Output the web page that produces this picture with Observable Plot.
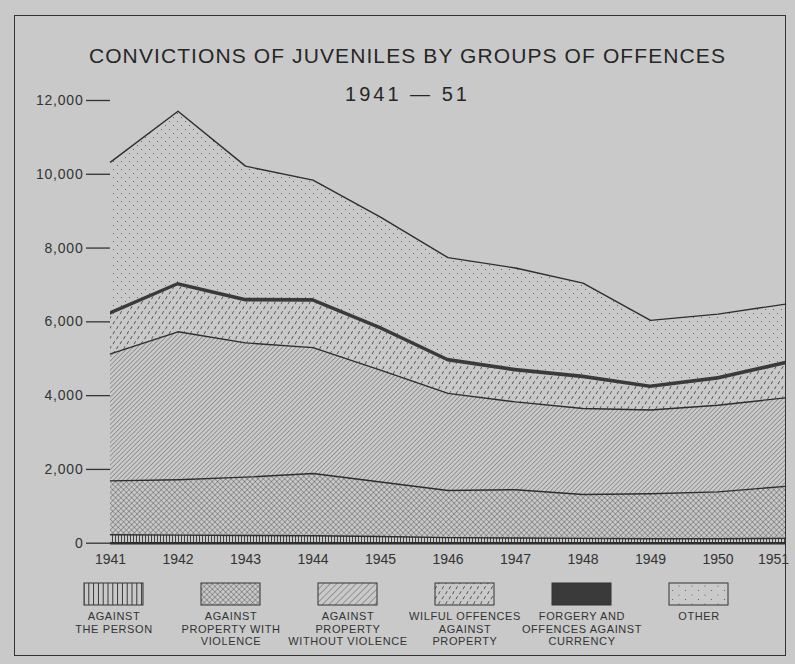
<!DOCTYPE html>
<html><head><meta charset="utf-8">
<script src="https://cdn.jsdelivr.net/npm/d3@7"></script>
<script src="https://cdn.jsdelivr.net/npm/@observablehq/plot@0.6"></script>
<style>
html,body{margin:0;padding:0;background:#c9c9c9;}
#page{position:relative;width:795px;height:664px;overflow:hidden;font-family:"Liberation Sans",Arial,sans-serif;color:#333;}
#frame{position:absolute;left:14px;top:15px;width:772px;height:641px;border:1.5px solid #333;box-sizing:border-box;}
.ttl{position:absolute;left:10px;width:795px;text-align:center;white-space:nowrap;color:#262626;}
#title{top:45px;font-size:21px;line-height:21px;letter-spacing:1.1px;}
#subtitle{top:84px;font-size:20px;line-height:20px;letter-spacing:3px;}
#chart,#legend{position:absolute;left:0;}
#chart{top:0;}
#legend{top:575px;}
#chart svg, #legend svg{overflow:visible;}
#chart g[aria-label="y-axis tick label"] text{letter-spacing:0.8px;}
#legend g[aria-label="text"] text{letter-spacing:0.6px;}
</style>
</head><body>
<svg width="0" height="0" style="position:absolute">
<defs>
<pattern id="pPerson" width="3" height="10" patternUnits="userSpaceOnUse"><line x1="1.5" y1="0" x2="1.5" y2="10" stroke="#333" stroke-width="0.9"/></pattern>
<pattern id="pPersonL" width="4.8" height="10" patternUnits="userSpaceOnUse"><line x1="2.4" y1="0" x2="2.4" y2="10" stroke="#333" stroke-width="1"/></pattern>
<pattern id="pCross" width="3.8" height="3.8" patternUnits="userSpaceOnUse" patternTransform="rotate(45)"><line x1="0" y1="0" x2="0" y2="3.8" stroke="#444" stroke-width="0.75"/><line x1="0" y1="0" x2="3.8" y2="0" stroke="#444" stroke-width="0.75"/></pattern>
<pattern id="pDiag" width="3.2" height="3.2" patternUnits="userSpaceOnUse" patternTransform="rotate(45)"><line x1="0" y1="0" x2="0" y2="3.2" stroke="#444" stroke-width="0.75"/></pattern>
<pattern id="pDiagL" width="4.6" height="4.6" patternUnits="userSpaceOnUse" patternTransform="rotate(45)"><line x1="0" y1="0" x2="0" y2="4.6" stroke="#444" stroke-width="0.8"/></pattern>
<pattern id="pWilful" width="7" height="10" patternUnits="userSpaceOnUse"><line x1="1" y1="4.2" x2="2.6" y2="1.2" stroke="#444" stroke-width="0.9"/><line x1="4.5" y1="9.2" x2="6.1" y2="6.2" stroke="#444" stroke-width="0.9"/></pattern>
<pattern id="pOther" width="8" height="8" patternUnits="userSpaceOnUse"><circle cx="1.5" cy="1.5" r="0.55" fill="#555"/><circle cx="5.5" cy="5.5" r="0.55" fill="#555"/></pattern>
<pattern id="pOtherL" width="13" height="9" patternUnits="userSpaceOnUse"><circle cx="3" cy="2" r="0.6" fill="#555"/><circle cx="9.5" cy="6.5" r="0.6" fill="#555"/></pattern>
</defs>
</svg>
<div id="page">
  <div id="frame"></div>
  <div id="chart"></div>
  <div id="legend"></div>
  <div id="title" class="ttl">CONVICTIONS OF JUVENILES BY GROUPS OF OFFENCES</div>
  <div id="subtitle" class="ttl">1941 — 51</div>
</div>
<script>
// ---- data ----
const years = [1941, 1942, 1943, 1944, 1945, 1946, 1947, 1948, 1949, 1950, 1951];
const categories = ["person", "propWith", "propWithout", "wilful", "forgery", "other"];
const person      = [230, 220, 210, 200, 180, 150, 140, 130, 120, 120, 130];
const propWith    = [1460, 1500, 1580, 1690, 1480, 1280, 1310, 1190, 1220, 1270, 1410];
const propWithout = [3440, 4010, 3640, 3410, 3030, 2630, 2380, 2330, 2270, 2350, 2400];
const wilful      = [1050, 1240, 1110, 1230, 1090, 850, 810, 810, 580, 680, 890];
const forgery     = [100, 100, 100, 100, 100, 100, 100, 100, 100, 100, 100];
const other       = [4050, 4640, 3580, 3210, 2960, 2730, 2720, 2490, 1750, 1690, 1550];
const yTicks = [0, 2000, 4000, 6000, 8000, 10000, 12000];
const legendLabels = [
  "AGAINST\nTHE PERSON",
  "AGAINST\nPROPERTY WITH\nVIOLENCE",
  "AGAINST\nPROPERTY\nWITHOUT VIOLENCE",
  "WILFUL OFFENCES\nAGAINST\nPROPERTY",
  "FORGERY AND\nOFFENCES AGAINST\nCURRENCY",
  "OTHER"
];
const areaFills   = ["url(#pPerson)", "url(#pCross)", "url(#pDiag)", "url(#pWilful)", "#3a3a3a", "url(#pOther)"];
const legendFills = ["url(#pPersonL)", "url(#pCross)", "url(#pDiagL)", "url(#pWilful)", "#3a3a3a", "url(#pOtherL)"];
const outlined = ["person", "propWith", "propWithout", "other"];

const seriesValues = [person, propWith, propWithout, wilful, forgery, other];
const table = [];
categories.forEach((c, k) => years.forEach((yr, i) => table.push({year: yr, category: c, value: seriesValues[k][i]})));

const font = "Liberation Sans, Arial, sans-serif";
const thousands = d3.format(",");

const chart = Plot.plot({
  width: 795, height: 580,
  marginTop: 100, marginBottom: 37.3, marginLeft: 110, marginRight: 10,
  style: {background: "transparent", fontFamily: font, color: "#333"},
  x: {domain: [1941, 1951], label: null},
  y: {domain: [0, 12000], label: null},
  color: {domain: categories, range: areaFills},
  marks: [
    Plot.areaY(table, Plot.stackY({x: "year", y: "value", z: "category", fill: "category", order: categories})),
    Plot.lineY(table, Plot.filter(d => outlined.includes(d.category),
      Plot.stackY2({x: "year", y: "value", z: "category", order: categories, stroke: "#2e2e2e", strokeWidth: 1.4}))),
    Plot.ruleY([0], {x1: 1941, x2: 1951, stroke: "#2e2e2e", strokeWidth: 2.5}),
    Plot.axisY({ticks: yTicks, tickSize: 24, tickPadding: 3, tickFormat: d => thousands(d), fontSize: 14, stroke: "#333", strokeWidth: 1.3, label: null}),
    Plot.axisX({ticks: years.slice(0, -1), tickSize: 0, tickPadding: 11, tickFormat: d => String(d), fontSize: 14, label: null}),
    Plot.axisX({ticks: years.slice(-1), tickSize: 0, tickPadding: 11, tickFormat: d => String(d), fontSize: 14, dx: -12, label: null})
  ]
});
document.getElementById("chart").appendChild(chart);

const legend = Plot.plot({
  width: 795, height: 85,
  marginTop: 8, marginBottom: 55, marginLeft: 0, marginRight: 0,
  style: {background: "transparent", fontFamily: font, color: "#333"},
  x: {type: "band", domain: categories, range: [25.25, 785.75], padding: 0.5, axis: null},
  color: {domain: categories, range: legendFills},
  marks: [
    Plot.cell(categories, {x: d => d, fill: d => d, stroke: "#333", strokeWidth: 1}),
    Plot.text(categories, {x: d => d, text: (d, i) => legendLabels[i], frameAnchor: "bottom", lineAnchor: "top", dy: 6, fontSize: 11, lineHeight: 1.14, fill: "#333"})
  ]
});
document.getElementById("legend").appendChild(legend);
</script>
</body></html>
